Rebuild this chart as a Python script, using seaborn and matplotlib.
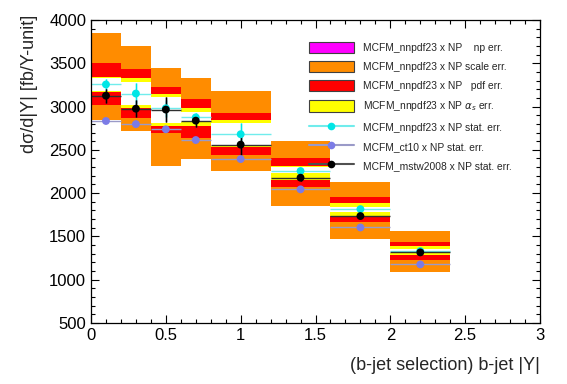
import seaborn as sns
import matplotlib.pyplot as plt
import numpy as np
import pandas as pd
from matplotlib.patches import Patch
from matplotlib.lines import Line2D
from matplotlib.ticker import MultipleLocator

# bins in b-jet |Y|
edges = [0.0, 0.2, 0.4, 0.6, 0.8, 1.2, 1.6, 2.0, 2.4]

# MCFM_nnpdf23 x NP bands
scale_hi = [3850, 3700, 3450, 3330, 3180, 2600, 2125, 1560]
scale_lo = [2850, 2715, 2310, 2390, 2255, 1850, 1475, 1090]
pdf_hi = [3500, 3430, 3230, 3090, 2930, 2400, 1950, 1440]
pdf_lo = [3015, 2870, 2700, 2635, 2440, 2075, 1670, 1225]
as_hi = [3345, 3325, 3140, 2980, 2850, 2310, 1880, 1390]
as_lo = [3170, 2980, 2778, 2770, 2530, 2150, 1735, 1285]
inner_hi = [3335, 3285, 3115, 2940, 2813, 2300, 1842, 1350]
inner_lo = [3175, 3017, 2806, 2820, 2540, 2230, 1785, 1305]

# points with stat. errors
nnpdf = [3255, 3150, 2980, 2875, 2680, 2255, 1815, 1330]
nnpdf_err = [60, 125, 100, 50, 135, 40, 30, 25]
ct10 = [2833, 2797, 2737, 2613, 2393, 2043, 1603, 1176]
ct10_err = [20, 20, 20, 20, 20, 15, 15, 15]
mstw = [3125, 2975, 2965, 2837, 2560, 2178, 1735, 1315]
mstw_err = [80, 95, 145, 70, 125, 40, 30, 25]

sns.set_style("ticks")
plt.rcParams['font.family'] = ['Liberation Sans', 'DejaVu Sans']
plt.rcParams['xtick.direction'] = 'in'
plt.rcParams['ytick.direction'] = 'in'

fig = plt.figure(figsize=(5.67, 3.84), dpi=100)
ax = fig.add_axes([0.1605, 0.159, 0.7919, 0.789])

lo = np.array(edges[:-1])
w = np.diff(edges)
xc = lo + w / 2

for top, bot, col in [(scale_hi, scale_lo, '#ff8c00'), (pdf_hi, pdf_lo, '#ff0000'),
                      (as_hi, as_lo, '#ffff00'), (inner_hi, inner_lo, 'white')]:
    ax.bar(lo, np.array(top) - np.array(bot), bottom=bot, width=w, align='edge',
           color=col, linewidth=0)

pts = pd.DataFrame({
    'x': np.concatenate([xc, xc, xc]),
    'y': nnpdf + ct10 + mstw,
    'set': ['nnpdf'] * 8 + ['ct10'] * 8 + ['mstw'] * 8,
})
cols = {'nnpdf': '#00e6e6', 'ct10': '#7b7be6', 'mstw': 'black'}
lcols = {'nnpdf': '#70ecec', 'ct10': '#9a9ac8', 'mstw': '#303030'}
for name, vals, errs in [('nnpdf', nnpdf, nnpdf_err), ('ct10', ct10, ct10_err),
                         ('mstw', mstw, mstw_err)]:
    ax.errorbar(xc, vals, xerr=w / 2, yerr=errs, fmt='none', ecolor=lcols[name],
                elinewidth=1.0, capsize=0)
    ax.errorbar(xc, vals, yerr=errs, fmt='none', ecolor=cols[name] if name != 'mstw' else 'black',
                elinewidth=1.0, capsize=0)
sns.scatterplot(data=pts, x='x', y='y', hue='set', palette=cols, s=32,
                edgecolor='none', legend=False, ax=ax, zorder=5)

ax.set_xlim(0, 3)
ax.set_ylim(500, 4000)
ax.xaxis.set_major_locator(MultipleLocator(0.5))
ax.xaxis.set_minor_locator(MultipleLocator(0.1))
ax.yaxis.set_major_locator(MultipleLocator(500))
ax.yaxis.set_minor_locator(MultipleLocator(100))
ax.xaxis.set_major_formatter(plt.FuncFormatter(lambda v, p: f'{v:g}'))
ax.tick_params(which='both', top=True, right=True, labelsize=12, width=0.8, colors='black')
ax.tick_params(which='major', length=6)
ax.tick_params(which='minor', length=3)
for s in ax.spines.values():
    s.set_linewidth(0.9)
    s.set_color('black')

ax.set_xlabel('(b-jet selection) b-jet |Y|', fontsize=13, loc='right')
ax.xaxis.set_label_coords(1.0, -0.112)
ax.set_ylabel('dσ/d|Y| [fb/Y-unit]', fontsize=13, loc='top')
ax.yaxis.set_label_coords(-0.118, 1.016)

handles = [
    Patch(facecolor='#ff00ff', edgecolor='#404040', linewidth=0.8),
    Patch(facecolor='#ff8c00', edgecolor='#404040', linewidth=0.8),
    Patch(facecolor='#ff0000', edgecolor='#404040', linewidth=0.8),
    Patch(facecolor='#ffff00', edgecolor='#404040', linewidth=0.8),
    Line2D([], [], color=lcols['nnpdf'], marker='o', markersize=5.5,
           markerfacecolor=cols['nnpdf'], markeredgecolor='none'),
    Line2D([], [], color=lcols['ct10'], marker='o', markersize=5.5,
           markerfacecolor=cols['ct10'], markeredgecolor='none'),
    Line2D([], [], color='#505050', marker='o', markersize=5.5,
           markerfacecolor='black', markeredgecolor='none'),
]
labels = [
    'MCFM_nnpdf23 x NP    np err.',
    'MCFM_nnpdf23 x NP scale err.',
    'MCFM_nnpdf23 x NP   pdf err.',
    r'MCFM_nnpdf23 x NP $\alpha_s$ err.',
    'MCFM_nnpdf23 x NP stat. err.',
    'MCFM_ct10 x NP stat. err.',
    'MCFM_mstw2008 x NP stat. err.',
]
ax.legend(handles, labels, loc='upper left', bbox_to_anchor=(0.485, 0.928),
          frameon=False, fontsize=7.4, borderpad=0, borderaxespad=0,
          handlelength=4.4, handleheight=1.3, handletextpad=0.9,
          labelspacing=0.78)

fig.savefig('out.png', dpi=100)
